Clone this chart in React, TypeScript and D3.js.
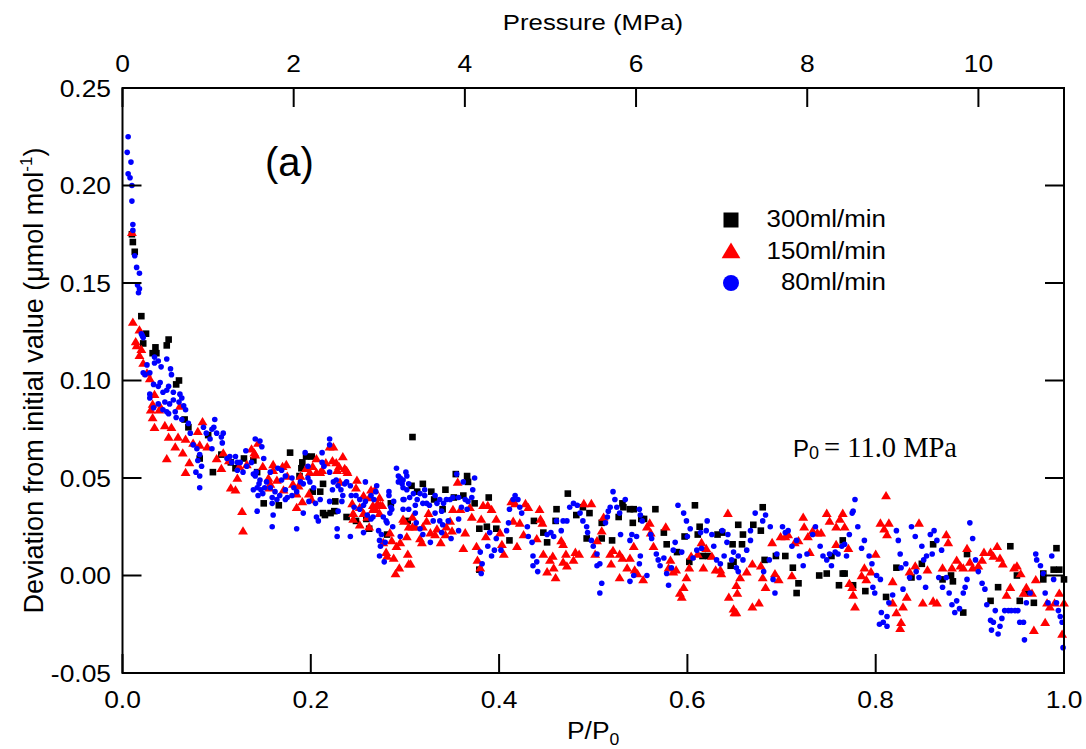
import React from 'react';
import * as d3 from 'd3';

// P/P0 vs deviation (umol/mol)
const black300: [number, number][] = [
  [0.010,0.175],[0.011,0.171],[0.013,0.166],[0.020,0.133],[0.022,0.119],[0.025,0.124],[0.032,0.114],[0.035,0.117],[0.036,0.114],[0.047,0.118],
  [0.049,0.121],[0.057,0.098],[0.060,0.100],[0.066,0.080],[0.070,0.076],[0.082,0.060],[0.091,0.072],[0.096,0.053],[0.105,0.062],[0.115,0.058],
  [0.120,0.055],[0.129,0.060],[0.139,0.059],[0.143,0.053],[0.150,0.037],[0.166,0.036],[0.178,0.063],[0.188,0.051],[0.190,0.055],[0.191,0.058],
  [0.195,0.061],[0.201,0.061],[0.202,0.043],[0.210,0.043],[0.213,0.047],[0.213,0.032],[0.215,0.031],[0.221,0.032],[0.225,0.033],[0.226,0.038],
  [0.238,0.030],[0.248,0.028],[0.259,0.029],[0.262,0.024],[0.281,0.021],[0.285,0.037],[0.303,0.028],[0.307,0.046],[0.308,0.071],[0.313,0.043],
  [0.319,0.047],[0.328,0.043],[0.331,0.039],[0.340,0.034],[0.343,0.044],[0.352,0.040],[0.354,0.052],[0.362,0.041],[0.366,0.051],[0.367,0.048],
  [0.374,0.037],[0.379,0.024],[0.379,0.003],[0.387,0.025],[0.389,0.040],[0.397,0.024],[0.411,0.018],[0.437,0.028],[0.447,0.022],[0.451,0.017],
  [0.460,0.028],[0.461,0.034],[0.473,0.042],[0.482,0.031],[0.489,0.035],[0.493,0.019],[0.496,0.032],[0.509,0.027],[0.509,0.019],[0.520,0.018],
  [0.527,0.030],[0.531,0.037],[0.532,0.035],[0.539,0.034],[0.542,0.027],[0.543,0.034],[0.551,0.029],[0.554,0.029],[0.566,0.034],[0.575,0.022],
  [0.578,0.016],[0.589,0.012],[0.597,0.020],[0.602,0.007],[0.608,0.036],[0.611,0.021],[0.613,0.025],[0.616,0.010],[0.622,0.010],[0.632,0.021],
  [0.637,0.022],[0.646,0.005],[0.648,0.016],[0.649,0.007],[0.654,0.026],[0.658,0.016],[0.659,0.021],[0.670,0.026],[0.678,0.023],[0.680,0.035],
  [0.682,0.008],[0.694,0.010],[0.704,0.010],[0.712,0.004],[0.716,-0.009],[0.718,-0.004],[0.740,0.000],[0.748,0.001],[0.753,0.010],[0.761,-0.005],
  [0.765,0.018],[0.765,0.001],[0.767,0.001],[0.776,-0.005],[0.789,-0.008],[0.811,-0.011],[0.822,0.004],[0.838,-0.001],[0.849,0.006],[0.861,0.016],
  [0.871,-0.002],[0.880,0.000],[0.882,-0.003],[0.893,-0.019],[0.897,0.011],[0.922,-0.013],[0.930,-0.006],[0.943,0.015],[0.950,0.000],[0.953,-0.013],
  [0.959,-0.009],[0.968,-0.014],[0.978,-0.002],[0.978,0.001],[0.989,0.003],[0.992,0.014],[0.995,0.003],[1.000,-0.002],
];

const red150: [number, number][] = [
  [0.010,0.176],[0.011,0.130],[0.014,0.120],[0.015,0.118],[0.018,0.126],[0.018,0.113],[0.020,0.116],[0.022,0.109],[0.026,0.104],[0.029,0.101],
  [0.030,0.085],[0.032,0.088],[0.032,0.081],[0.034,0.093],[0.034,0.076],[0.039,0.085],[0.041,0.086],[0.045,0.077],[0.047,0.060],[0.049,0.071],
  [0.052,0.076],[0.056,0.066],[0.059,0.071],[0.061,0.087],[0.064,0.063],[0.067,0.070],[0.067,0.053],[0.071,0.058],[0.075,0.068],[0.080,0.074],
  [0.082,0.067],[0.085,0.079],[0.090,0.066],[0.100,0.060],[0.105,0.055],[0.107,0.063],[0.113,0.059],[0.115,0.045],[0.120,0.044],[0.122,0.050],
  [0.124,0.056],[0.127,0.033],[0.128,0.023],[0.132,0.057],[0.137,0.065],[0.140,0.063],[0.141,0.062],[0.144,0.068],[0.149,0.056],[0.155,0.050],
  [0.156,0.045],[0.157,0.047],[0.160,0.054],[0.160,0.057],[0.164,0.049],[0.170,0.056],[0.171,0.044],[0.174,0.057],[0.175,0.051],[0.181,0.047],
  [0.185,0.042],[0.185,0.035],[0.187,0.046],[0.189,0.051],[0.191,0.038],[0.195,0.055],[0.198,0.042],[0.199,0.053],[0.201,0.039],[0.202,0.056],
  [0.206,0.060],[0.206,0.053],[0.210,0.053],[0.212,0.054],[0.216,0.058],[0.220,0.066],[0.223,0.059],[0.224,0.066],[0.227,0.058],[0.228,0.054],
  [0.230,0.056],[0.231,0.048],[0.234,0.061],[0.236,0.055],[0.238,0.054],[0.239,0.053],[0.244,0.037],[0.245,0.032],[0.245,0.029],[0.248,0.045],
  [0.249,0.049],[0.252,0.035],[0.252,0.026],[0.256,0.041],[0.256,0.032],[0.260,0.030],[0.262,0.040],[0.262,0.025],[0.264,0.044],[0.266,0.036],
  [0.266,0.034],[0.268,0.044],[0.269,0.034],[0.271,0.037],[0.273,0.040],[0.273,0.032],[0.274,0.036],[0.276,0.036],[0.277,0.017],[0.280,0.012],
  [0.281,0.010],[0.284,0.022],[0.286,0.018],[0.288,0.009],[0.290,0.001],[0.291,0.015],[0.294,0.004],[0.295,0.017],[0.298,0.029],[0.299,0.028],
  [0.302,0.020],[0.303,0.011],[0.304,0.025],[0.304,0.006],[0.306,0.006],[0.308,0.030],[0.308,0.025],[0.311,0.025],[0.316,0.019],[0.318,0.017],
  [0.319,0.025],[0.323,0.028],[0.325,0.032],[0.327,0.022],[0.332,0.021],[0.334,0.024],[0.338,0.017],[0.343,0.021],[0.344,0.025],[0.348,0.028],
  [0.350,0.023],[0.351,0.034],[0.356,0.048],[0.359,0.034],[0.362,0.014],[0.364,0.022],[0.369,0.035],[0.371,0.030],[0.376,0.015],[0.377,0.008],
  [0.380,0.004],[0.381,0.029],[0.383,0.036],[0.386,0.020],[0.388,0.036],[0.392,0.034],[0.397,0.029],[0.401,0.022],[0.403,0.016],[0.405,0.011],
  [0.413,0.038],[0.415,0.028],[0.417,0.037],[0.419,0.015],[0.422,0.027],[0.426,0.021],[0.428,0.037],[0.431,0.035],[0.440,0.019],[0.443,0.034],
  [0.444,0.029],[0.446,0.027],[0.447,0.011],[0.451,0.002],[0.454,0.008],[0.457,0.010],[0.458,0.004],[0.460,-0.001],[0.466,0.018],[0.468,0.016],
  [0.468,0.007],[0.471,0.011],[0.472,0.005],[0.479,0.008],[0.481,0.012],[0.485,0.011],[0.490,0.037],[0.498,0.037],[0.502,0.011],[0.504,0.018],
  [0.509,0.023],[0.511,0.030],[0.518,0.011],[0.519,0.006],[0.521,0.013],[0.528,0.011],[0.528,-0.001],[0.531,0.009],[0.536,0.004],[0.539,0.009],
  [0.543,0.015],[0.544,0.003],[0.547,0.001],[0.553,-0.002],[0.557,0.025],[0.560,0.027],[0.561,0.022],[0.564,0.015],[0.577,0.025],[0.580,0.004],
  [0.582,0.008],[0.585,0.002],[0.588,0.003],[0.592,-0.009],[0.594,-0.011],[0.596,-0.006],[0.599,-0.001],[0.602,0.004],[0.604,0.010],[0.611,0.011],
  [0.615,0.017],[0.617,0.004],[0.620,0.014],[0.626,0.010],[0.630,0.003],[0.635,0.003],[0.636,0.001],[0.643,0.032],[0.644,-0.011],[0.649,-0.017],
  [0.650,-0.019],[0.652,-0.019],[0.652,-0.005],[0.653,-0.009],[0.656,-0.001],[0.663,0.002],[0.669,0.006],[0.669,-0.016],[0.676,-0.014],[0.678,0.005],
  [0.680,-0.001],[0.683,-0.006],[0.690,0.017],[0.693,0.001],[0.697,-0.002],[0.699,0.020],[0.704,0.020],[0.707,0.021],[0.711,0.000],[0.714,0.017],
  [0.718,0.018],[0.723,0.030],[0.724,0.025],[0.728,0.020],[0.730,0.012],[0.733,0.023],[0.738,0.022],[0.742,0.022],[0.748,0.032],[0.751,0.028],
  [0.758,0.025],[0.758,0.016],[0.762,0.029],[0.765,0.032],[0.767,0.025],[0.771,0.014],[0.772,-0.004],[0.775,-0.006],[0.776,-0.010],[0.778,-0.016],
  [0.785,0.000],[0.788,0.004],[0.790,-0.002],[0.795,0.002],[0.800,0.011],[0.805,0.027],[0.809,0.024],[0.811,0.041],[0.812,0.021],[0.814,0.027],
  [0.818,-0.003],[0.818,-0.014],[0.822,-0.019],[0.826,-0.027],[0.827,-0.024],[0.829,-0.016],[0.833,-0.011],[0.836,0.002],[0.842,0.005],[0.846,0.027],
  [0.850,-0.014],[0.855,0.003],[0.861,-0.013],[0.865,-0.014],[0.871,0.004],[0.875,0.021],[0.877,0.017],[0.881,0.004],[0.886,0.008],[0.890,0.005],
  [0.893,0.004],[0.897,0.014],[0.900,0.007],[0.903,0.004],[0.909,0.005],[0.913,0.008],[0.915,0.012],[0.922,0.012],[0.925,0.010],[0.929,0.015],
  [0.932,0.009],[0.935,0.006],[0.939,-0.010],[0.943,-0.006],[0.947,0.004],[0.950,0.005],[0.954,0.001],[0.957,-0.009],[0.960,-0.006],[0.966,-0.009],
  [0.968,-0.028],[0.970,-0.002],[0.980,-0.024],[0.982,-0.014],[0.985,-0.016],[0.990,-0.014],[0.995,-0.009],[0.998,-0.030],[1.000,-0.014],
];

const blue80: [number, number][] = [
  [0.005,0.217],[0.006,0.225],[0.006,0.206],[0.008,0.204],[0.009,0.212],[0.010,0.200],[0.010,0.192],[0.011,0.180],[0.011,0.177],[0.013,0.164],
  [0.015,0.158],[0.016,0.149],[0.017,0.145],[0.018,0.155],[0.018,0.147],[0.020,0.124],[0.021,0.123],[0.022,0.122],[0.022,0.104],[0.024,0.103],
  [0.026,0.108],[0.029,0.104],[0.029,0.091],[0.029,0.093],[0.033,0.098],[0.033,0.086],[0.034,0.112],[0.034,0.109],[0.038,0.110],[0.038,0.097],
  [0.038,0.088],[0.040,0.099],[0.041,0.107],[0.043,0.094],[0.043,0.085],[0.045,0.089],[0.047,0.111],[0.047,0.095],[0.047,0.084],[0.049,0.097],
  [0.049,0.083],[0.050,0.088],[0.051,0.106],[0.052,0.103],[0.054,0.094],[0.054,0.090],[0.056,0.084],[0.057,0.081],[0.060,0.089],[0.061,0.093],
  [0.063,0.091],[0.063,0.080],[0.065,0.087],[0.067,0.085],[0.070,0.078],[0.072,0.073],[0.075,0.067],[0.078,0.053],[0.079,0.065],[0.080,0.059],
  [0.082,0.062],[0.082,0.051],[0.082,0.045],[0.084,0.056],[0.086,0.076],[0.089,0.073],[0.093,0.070],[0.095,0.075],[0.095,0.065],[0.097,0.076],
  [0.098,0.080],[0.100,0.073],[0.105,0.071],[0.106,0.068],[0.107,0.073],[0.111,0.060],[0.114,0.061],[0.116,0.058],[0.120,0.061],[0.122,0.058],
  [0.122,0.054],[0.125,0.058],[0.128,0.053],[0.131,0.064],[0.132,0.056],[0.137,0.058],[0.139,0.052],[0.139,0.044],[0.141,0.070],[0.141,0.051],
  [0.142,0.053],[0.143,0.045],[0.143,0.033],[0.144,0.041],[0.145,0.047],[0.146,0.069],[0.146,0.049],[0.147,0.044],[0.148,0.066],[0.149,0.042],
  [0.150,0.060],[0.151,0.045],[0.153,0.048],[0.157,0.053],[0.157,0.045],[0.159,0.037],[0.159,0.040],[0.159,0.025],[0.160,0.031],[0.162,0.043],
  [0.164,0.039],[0.165,0.055],[0.167,0.041],[0.169,0.054],[0.169,0.049],[0.173,0.051],[0.173,0.044],[0.173,0.039],[0.175,0.040],[0.180,0.050],
  [0.180,0.041],[0.182,0.045],[0.185,0.043],[0.185,0.024],[0.189,0.048],[0.192,0.047],[0.192,0.032],[0.194,0.063],[0.197,0.056],[0.197,0.050],
  [0.198,0.038],[0.199,0.048],[0.203,0.045],[0.205,0.037],[0.206,0.030],[0.208,0.028],[0.210,0.039],[0.212,0.063],[0.212,0.058],[0.214,0.056],
  [0.220,0.070],[0.220,0.067],[0.220,0.053],[0.220,0.038],[0.223,0.044],[0.224,0.048],[0.227,0.049],[0.228,0.024],[0.228,0.020],[0.229,0.046],
  [0.229,0.033],[0.232,0.044],[0.233,0.038],[0.234,0.041],[0.236,0.047],[0.238,0.048],[0.242,0.046],[0.242,0.020],[0.243,0.041],[0.246,0.035],
  [0.248,0.041],[0.252,0.039],[0.252,0.034],[0.256,0.036],[0.256,0.022],[0.258,0.048],[0.258,0.038],[0.260,0.031],[0.264,0.041],[0.264,0.029],
  [0.266,0.030],[0.267,0.039],[0.269,0.043],[0.270,0.046],[0.272,0.023],[0.273,0.018],[0.273,0.010],[0.274,0.015],[0.275,0.021],[0.277,0.030],
  [0.278,0.007],[0.279,0.017],[0.280,0.028],[0.281,0.027],[0.283,0.043],[0.283,0.041],[0.284,0.032],[0.285,0.035],[0.286,0.034],[0.287,0.025],
  [0.288,0.038],[0.291,0.055],[0.293,0.051],[0.293,0.048],[0.295,0.050],[0.295,0.020],[0.297,0.047],[0.298,0.045],[0.298,0.049],[0.298,0.039],
  [0.298,0.034],[0.299,0.039],[0.301,0.053],[0.302,0.051],[0.302,0.044],[0.304,0.047],[0.304,0.034],[0.305,0.040],[0.309,0.042],[0.311,0.036],
  [0.311,0.032],[0.312,0.027],[0.313,0.039],[0.316,0.042],[0.316,0.024],[0.319,0.037],[0.319,0.021],[0.321,0.041],[0.321,0.044],[0.323,0.037],
  [0.326,0.036],[0.327,0.017],[0.330,0.028],[0.332,0.032],[0.332,0.041],[0.334,0.037],[0.337,0.028],[0.337,0.039],[0.339,0.022],[0.339,0.033],
  [0.340,0.026],[0.341,0.037],[0.344,0.039],[0.346,0.028],[0.348,0.039],[0.349,0.019],[0.351,0.040],[0.355,0.052],[0.357,0.040],[0.357,0.029],
  [0.357,0.023],[0.360,0.035],[0.362,0.048],[0.364,0.039],[0.366,0.034],[0.367,0.038],[0.371,0.040],[0.372,0.044],[0.374,0.050],[0.380,0.012],
  [0.381,0.001],[0.382,0.006],[0.388,0.015],[0.390,0.022],[0.392,0.010],[0.395,0.013],[0.397,0.019],[0.402,0.013],[0.408,0.023],[0.410,0.027],
  [0.411,0.034],[0.415,0.039],[0.417,0.041],[0.420,0.039],[0.422,0.035],[0.424,0.032],[0.430,0.025],[0.431,0.020],[0.435,0.017],[0.436,0.010],
  [0.436,0.005],[0.440,0.007],[0.441,0.002],[0.451,0.021],[0.455,0.022],[0.458,0.020],[0.461,0.028],[0.466,0.023],[0.468,0.028],[0.472,0.028],
  [0.475,0.035],[0.479,0.037],[0.483,0.036],[0.486,0.032],[0.489,0.028],[0.493,0.025],[0.494,0.022],[0.498,0.018],[0.500,0.015],[0.504,0.011],
  [0.504,0.005],[0.507,0.006],[0.507,-0.009],[0.509,-0.004],[0.513,0.027],[0.515,0.030],[0.516,0.033],[0.518,0.035],[0.521,0.043],[0.523,0.039],
  [0.525,0.035],[0.528,0.032],[0.529,0.021],[0.534,0.039],[0.539,0.018],[0.539,-0.003],[0.541,0.021],[0.543,0.000],[0.546,0.020],[0.549,0.034],
  [0.549,0.006],[0.550,0.031],[0.550,0.010],[0.552,0.028],[0.557,0.000],[0.561,0.021],[0.562,0.019],[0.567,0.011],[0.569,0.008],[0.571,0.005],
  [0.575,0.009],[0.578,0.001],[0.580,-0.005],[0.583,0.004],[0.585,0.013],[0.587,0.017],[0.590,0.036],[0.594,0.012],[0.596,0.032],[0.599,0.028],
  [0.600,0.020],[0.603,0.024],[0.606,0.009],[0.610,0.013],[0.614,0.022],[0.615,0.014],[0.620,0.023],[0.621,0.028],[0.626,0.021],[0.628,0.015],
  [0.631,0.008],[0.635,0.006],[0.637,0.023],[0.639,0.010],[0.642,0.017],[0.643,0.021],[0.647,0.008],[0.649,0.012],[0.652,0.004],[0.654,0.002],
  [0.654,0.010],[0.659,0.008],[0.663,0.013],[0.667,0.018],[0.667,0.023],[0.672,0.032],[0.680,0.028],[0.681,0.002],[0.683,0.031],[0.687,0.008],
  [0.688,0.025],[0.691,-0.002],[0.693,-0.009],[0.695,0.011],[0.701,0.025],[0.704,0.022],[0.707,0.023],[0.711,0.015],[0.716,0.018],[0.719,0.010],
  [0.723,0.005],[0.727,0.011],[0.733,0.021],[0.736,0.025],[0.741,0.015],[0.744,0.010],[0.748,0.008],[0.751,0.011],[0.753,0.005],[0.757,0.012],
  [0.760,0.011],[0.764,0.015],[0.767,0.016],[0.769,0.010],[0.772,0.021],[0.775,0.032],[0.776,0.033],[0.778,0.039],[0.781,0.025],[0.785,0.014],
  [0.788,0.018],[0.793,0.010],[0.796,0.006],[0.797,-0.006],[0.799,-0.009],[0.801,0.000],[0.804,-0.025],[0.805,-0.002],[0.806,-0.019],[0.808,-0.024],
  [0.812,-0.021],[0.812,-0.026],[0.814,-0.014],[0.818,-0.010],[0.822,0.023],[0.824,0.018],[0.826,0.011],[0.827,0.004],[0.829,-0.007],[0.832,0.006],
  [0.836,-0.001],[0.838,0.025],[0.842,0.020],[0.843,0.002],[0.846,-0.001],[0.849,0.015],[0.851,0.008],[0.853,-0.006],[0.854,0.010],[0.858,0.021],
  [0.860,0.011],[0.862,0.023],[0.865,0.018],[0.867,-0.001],[0.870,0.013],[0.871,-0.006],[0.875,-0.001],[0.878,-0.009],[0.881,-0.015],[0.884,-0.019],
  [0.886,-0.013],[0.889,-0.017],[0.893,-0.009],[0.895,-0.006],[0.897,-0.002],[0.900,0.027],[0.903,0.019],[0.906,0.008],[0.909,0.002],[0.913,-0.004],
  [0.916,-0.007],[0.918,-0.015],[0.922,-0.023],[0.923,-0.028],[0.925,-0.024],[0.927,-0.018],[0.930,-0.030],[0.932,-0.026],[0.934,-0.022],[0.937,-0.018],
  [0.941,-0.018],[0.944,-0.018],[0.948,-0.018],[0.951,-0.018],[0.953,-0.024],[0.957,-0.024],[0.958,-0.033],[0.960,-0.014],[0.964,-0.009],[0.970,0.011],
  [0.971,0.008],[0.975,0.005],[0.978,0.001],[0.980,-0.009],[0.983,-0.014],[0.987,0.010],[0.989,-0.002],[0.992,-0.014],[0.994,-0.018],[0.996,-0.021],
  [0.998,-0.024],[0.999,-0.037],
];

const xTicks = [0, 0.2, 0.4, 0.6, 0.8, 1.0];
const pressureTicks = [0, 2, 4, 6, 8, 10];
const yTicks = [-0.05, 0, 0.05, 0.1, 0.15, 0.2, 0.25];
const legendLabels = ['300ml/min', '150ml/min', '80ml/min'];

const W = 1086;
const H = 749;
const left = 122.5, right = 1064, top = 88, bottom = 673;
const SANS = '"Liberation Sans", Arial, sans-serif';
const SERIF = '"Liberation Serif", "Times New Roman", serif';
const TICK = 19;

// the original picture is a little stretched sideways, so labels get a scaleX
const Label = ({ x, y, size, anchor = 'middle', sx = 1.1, children }: any) => (
  <text transform={`translate(${x},${y}) scale(${sx},1)`} fontSize={size} fontFamily={SANS}
    textAnchor={anchor} fill="#000">{children}</text>
);

const tri = (s: number) => `M0,${-s * 0.5}L${s * 0.55},${s * 0.42}L${-s * 0.55},${s * 0.42}Z`;

const App = () => {
  const x = d3.scaleLinear().domain([0, 1]).range([left, right]);
  const xP = d3.scaleLinear().domain([0, 11]).range([left, right]);
  const y = d3.scaleLinear().domain([-0.05, 0.25]).range([bottom, top]);

  // plain hyphen for negatives, like the original
  const fmtY = (v: number) => d3.format('.2f')(v).replace('\u2212', '-');
  const fmtX = d3.format('.1f');

  return (
    <svg width={W} height={H} style={{ position: 'absolute', left: 0, top: 0, background: '#fff' }}>
      {/* data */}
      <g>
        {black300.map((d, i) => (
          <rect key={'b' + i} x={x(d[0]) - 3.3} y={y(d[1]) - 3.3} width={6.6} height={6.6} fill="#000" />
        ))}
      </g>
      <g>
        {red150.map((d, i) => (
          <path key={'r' + i} d={tri(9)} transform={`translate(${x(d[0])},${y(d[1])})`} fill="#ff0000" />
        ))}
      </g>
      <g>
        {blue80.map((d, i) => (
          <circle key={'c' + i} cx={x(d[0])} cy={y(d[1])} r={2.8} fill="#0000ff" />
        ))}
      </g>

      {/* frame */}
      <rect x={left} y={top} width={right - left} height={bottom - top} fill="none" stroke="#000" strokeWidth={2} />

      {/* bottom axis */}
      {xTicks.map(t => (
        <g key={'xt' + t}>
          <line x1={x(t)} x2={x(t)} y1={bottom} y2={bottom - TICK} stroke="#000" strokeWidth={2} />
          <Label x={x(t)} y={708} size={24}>{fmtX(t)}</Label>
        </g>
      ))}
      {/* top axis */}
      {pressureTicks.map(t => (
        <g key={'pt' + t}>
          <line x1={xP(t)} x2={xP(t)} y1={top} y2={top + TICK} stroke="#000" strokeWidth={2} />
          <Label x={xP(t)} y={72} size={24}>{t}</Label>
        </g>
      ))}
      {/* left + right axis */}
      {yTicks.map(t => (
        <g key={'yt' + t}>
          <line x1={left} x2={left + TICK} y1={y(t)} y2={y(t)} stroke="#000" strokeWidth={2} />
          <line x1={right} x2={right - TICK} y1={y(t)} y2={y(t)} stroke="#000" strokeWidth={2} />
          <Label x={111} y={y(t) + 8.6} size={24} anchor="end">{fmtY(t)}</Label>
        </g>
      ))}

      {/* axis titles */}
      <Label x={593} y={30} size={23} sx={1.12}>Pressure (MPa)</Label>
      <text transform="translate(567,739) scale(1.1,1)" fontSize={24} fontFamily={SANS}>
        P/P<tspan fontSize={16} dy={6}>0</tspan>
      </text>
      <text transform={`translate(43,${(top + bottom) / 2}) rotate(-90)`} fontSize={27} fontFamily={SANS} textAnchor="middle">
        Deviation from initial value (μmol mol<tspan fontSize={17} dy={-11}>-1</tspan><tspan dy={11}>)</tspan>
      </text>

      {/* annotations */}
      <text x={265} y={176} fontSize={40} fontFamily={SANS}>(a)</text>
      <text x={793} y={457} fontSize={24} fontFamily={SANS}>P<tspan fontSize={18} dy={2}>0</tspan></text>
      <text x={824} y={457} fontSize={28.5} fontFamily={SERIF}>= 11.0 MPa</text>

      {/* legend */}
      <rect x={731 - 7.5} y={220 - 7.5} width={15} height={15} fill="#000" />
      <path d={tri(17)} transform="translate(731,251)" fill="#ff0000" />
      <circle cx={731} cy={283} r={8} fill="#0000ff" />
      {legendLabels.map((l, i) => (
        <Label key={l} x={886} y={227 + i * 31.5} size={24} anchor="end" sx={1.08}>{l}</Label>
      ))}
    </svg>
  );
};

export default App;
